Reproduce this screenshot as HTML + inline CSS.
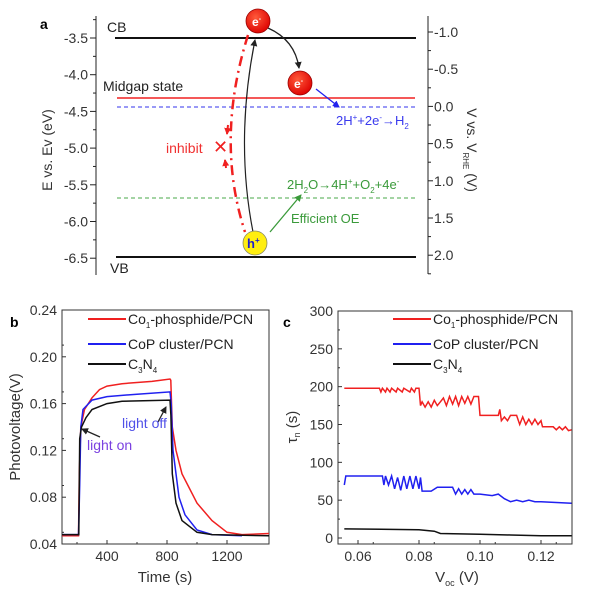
<!DOCTYPE html>
<html><head><meta charset="utf-8"><style>
body{margin:0;background:#fff}
svg{display:block;font-family:"Liberation Sans",sans-serif}
</style></head><body>
<svg width="600" height="589" viewBox="0 0 600 589">
<defs>
<marker id="ak" markerUnits="userSpaceOnUse" markerWidth="8" markerHeight="8" refX="6" refY="4" orient="auto"><path d="M0,0.5 L7,4 L0,7.5 z" fill="#222"/></marker>
<marker id="ab" markerUnits="userSpaceOnUse" markerWidth="8" markerHeight="8" refX="6" refY="4" orient="auto"><path d="M0,0.5 L7,4 L0,7.5 z" fill="#2222ee"/></marker>
<marker id="ag" markerUnits="userSpaceOnUse" markerWidth="8" markerHeight="8" refX="6" refY="4" orient="auto"><path d="M0,0.5 L7,4 L0,7.5 z" fill="#3a9a3a"/></marker>
<marker id="ar" markerUnits="userSpaceOnUse" markerWidth="8" markerHeight="8" refX="6" refY="4" orient="auto"><path d="M0,0.5 L7,4 L0,7.5 z" fill="#f02020"/></marker>
<radialGradient id="rg" cx="0.4" cy="0.35" r="0.7"><stop offset="0" stop-color="#ff5a3a"/><stop offset="1" stop-color="#d00"/></radialGradient>
</defs>
<g>
<text x="40" y="29" font-weight="bold" font-size="14">a</text>
<g id="aleft"></g>
<g id="aright"></g>
<text transform="translate(52,150) rotate(-90)" text-anchor="middle" font-size="14" fill="#333">E vs. Ev (eV)</text>
<text transform="translate(467,150) rotate(90)" text-anchor="middle" font-size="14" fill="#333">V vs. V<tspan font-size="8" dy="4">RHE</tspan><tspan dy="-4"> (V)</tspan></text>
<line x1="115" y1="38" x2="416" y2="38" stroke="#111" stroke-width="2"/>
<line x1="117" y1="98" x2="415" y2="98" stroke="#f02020" stroke-width="1.5"/>
<line x1="117" y1="107" x2="415" y2="107" stroke="#3333ee" stroke-width="1" stroke-dasharray="4,3"/>
<line x1="117" y1="198" x2="415" y2="198" stroke="#4aa84a" stroke-width="1" stroke-dasharray="4,3"/>
<line x1="116" y1="257" x2="416" y2="257" stroke="#111" stroke-width="2"/>
<text x="107" y="32" font-size="14" fill="#222">CB</text>
<text x="103" y="91" font-size="14" fill="#222">Midgap state</text>
<text x="110" y="273" font-size="14" fill="#222">VB</text>
<path d="M248,35 Q215,140 245,232" fill="none" stroke="#f02020" stroke-width="2.5" stroke-dasharray="10,5,2,5"/>
<path d="M228,125 L227,134" stroke="#f02020" stroke-width="2" marker-end="url(#ar)"/>
<path d="M226,168 L225,160" stroke="#f02020" stroke-width="2" marker-end="url(#ar)"/>
<text x="166" y="153" font-size="14" fill="#f03030">inhibit</text>
<text x="213" y="153" font-size="18" fill="#f02020">✕</text>
<path d="M253,232 Q235,140 255,40" fill="none" stroke="#222" stroke-width="1.2" marker-end="url(#ak)"/>
<path d="M268,28 Q295,40 299,68" fill="none" stroke="#222" stroke-width="1.3" marker-end="url(#ak)"/>
<line x1="316" y1="89" x2="339" y2="107" stroke="#2222ee" stroke-width="1.3" marker-end="url(#ab)"/>
<line x1="270" y1="232" x2="301" y2="195" stroke="#3a9a3a" stroke-width="1.3" marker-end="url(#ag)"/>
<text x="336" y="125" font-size="13" fill="#3a3aee">2H<tspan font-size="8" dy="-5">+</tspan><tspan dy="5">+2e</tspan><tspan font-size="8" dy="-5">-</tspan><tspan dy="5">→H</tspan><tspan font-size="8" dy="4">2</tspan></text>
<text x="287" y="189" font-size="13" fill="#3a9a3a">2H<tspan font-size="8" dy="4">2</tspan><tspan dy="-4">O→4H</tspan><tspan font-size="8" dy="-5">+</tspan><tspan dy="5">+O</tspan><tspan font-size="8" dy="4">2</tspan><tspan dy="-4">+4e</tspan><tspan font-size="8" dy="-5">-</tspan></text>
<text x="291" y="223" font-size="13" fill="#3a9a3a">Efficient OE</text>
<circle cx="258" cy="21" r="12" fill="url(#rg)" stroke="#900" stroke-width="0.8"/>
<text x="252" y="26" font-size="12" font-weight="bold" fill="#fff">e<tspan font-size="7" dy="-5">-</tspan></text>
<circle cx="300" cy="83" r="12" fill="url(#rg)" stroke="#900" stroke-width="0.8"/>
<text x="294" y="88" font-size="12" font-weight="bold" fill="#fff">e<tspan font-size="7" dy="-5">-</tspan></text>
<circle cx="255" cy="243" r="12" fill="#ffee10" stroke="#886" stroke-width="0.8"/>
<text x="247" y="248" font-size="13" font-weight="bold" fill="#2020cc">h<tspan font-size="8" dy="-5">+</tspan></text>
</g>
<g id="pb">
<text x="10" y="327" font-weight="bold" font-size="14">b</text>
<text transform="translate(20,427) rotate(-90)" text-anchor="middle" font-size="15" fill="#333">Photovoltage(V)</text>
<text x="165" y="582" text-anchor="middle" font-size="15" fill="#333">Time (s)</text>
</g>
<g id="pc">
<text x="283" y="327" font-weight="bold" font-size="14">c</text>
<text transform="translate(297,427) rotate(-90)" text-anchor="middle" font-size="15" fill="#333">τ<tspan font-size="9" dy="3">n</tspan><tspan dy="-3"> (s)</tspan></text>
<text x="457" y="582" text-anchor="middle" font-size="15" fill="#333">V<tspan font-size="9" dy="4">oc</tspan><tspan dy="-4"> (V)</tspan></text>
</g>
</svg>
<script>
const NS='http://www.w3.org/2000/svg';
function mk(tag,attrs,parent){const e=document.createElementNS(NS,tag);for(const k in attrs)e.setAttribute(k,attrs[k]);parent.appendChild(e);return e;}
const aLeftTicks=[-3.5,-4.0,-4.5,-5.0,-5.5,-6.0,-6.5];
const aRightTicks=[-1.0,-0.5,0.0,0.5,1.0,1.5,2.0];
const bTicksY=[0.04,0.08,0.12,0.16,0.20,0.24];
const bTicksX=[400,800,1200];
const bRedT=[100,210,215,225,250,300,350,400,500,600,700,820,825,835,860,900,1000,1100,1200,1300,1480];
const bRedV=[0.047,0.047,0.10,0.14,0.155,0.165,0.172,0.175,0.177,0.178,0.179,0.181,0.18,0.14,0.12,0.10,0.075,0.06,0.05,0.048,0.049];
const bBlueT=[100,210,218,225,240,300,400,600,820,828,840,880,920,1000,1100,1300];
const bBlueV=[0.048,0.048,0.09,0.14,0.155,0.163,0.166,0.168,0.170,0.16,0.12,0.08,0.065,0.052,0.048,0.047];
const bBlackT=[100,212,218,230,260,300,400,500,820,826,835,860,900,1000,1100,1480];
const bBlackV=[0.048,0.048,0.13,0.14,0.148,0.155,0.160,0.162,0.163,0.15,0.10,0.075,0.06,0.05,0.048,0.047];
const cTicksY=[0,50,100,150,200,250,300];
const cTicksX=[0.06,0.08,0.10,0.12];
const cRedX=[0.0555,0.067,0.0675,0.068,0.069,0.0695,0.0705,0.071,0.0725,0.073,0.0745,0.075,0.077,0.0775,0.0785,0.079,0.080,0.0805,0.081,0.082,0.083,0.084,0.085,0.086,0.087,0.088,0.089,0.090,0.091,0.092,0.093,0.094,0.095,0.096,0.097,0.098,0.0995,0.100,0.106,0.1065,0.107,0.108,0.109,0.110,0.112,0.113,0.114,0.115,0.116,0.117,0.118,0.119,0.120,0.1205,0.124,0.125,0.126,0.127,0.128,0.129,0.130];
const cRedY=[198,198,193,198,193,198,193,198,193,198,193,198,193,198,193,198,198,175,180,173,180,173,182,175,180,185,175,187,177,187,175,187,178,187,177,187,187,162,162,170,155,160,155,162,162,150,160,150,157,150,157,150,155,147,147,143,147,143,147,142,143];
const cBlueX=[0.0555,0.056,0.068,0.0685,0.069,0.070,0.071,0.072,0.073,0.074,0.075,0.076,0.077,0.078,0.079,0.080,0.0805,0.081,0.084,0.086,0.091,0.092,0.093,0.094,0.095,0.096,0.097,0.098,0.100,0.104,0.106,0.108,0.110,0.112,0.114,0.116,0.118,0.120,0.130];
const cBlueY=[70,82,82,70,82,70,82,65,80,63,82,65,82,65,82,65,80,62,62,67,67,58,65,58,64,58,64,58,58,56,58,52,48,50,48,50,48,48,46];
const cBlackX=[0.0555,0.080,0.085,0.087,0.100,0.110,0.120,0.130];
const cBlackY=[12,11,9,6,5,4,3,3];

const aL=document.getElementById('aleft'), aR=document.getElementById('aright');
const ayL=v=>38+(v+3.5)/-0.5*36.7;
const ayR=v=>32+(v+1.0)/0.5*37.2;
let ln=mk('line',{x1:96,y1:16,x2:96,y2:275,stroke:'#222','stroke-width':1},aL);


aLeftTicks.forEach((v,i)=>{const y=ayL(v);
 mk('line',{x1:90,y1:y,x2:96,y2:y,stroke:'#222'},aL);
 if(i<aLeftTicks.length-1) mk('line',{x1:93,y1:y+18.35,x2:96,y2:y+18.35,stroke:'#222'},aL);
 const t=mk('text',{x:88,y:y+5,'text-anchor':'end','font-size':14,fill:'#333'},aL);t.textContent=v.toFixed(1);
 
 });
mk('line',{x1:93,y1:ayL(-3.5)-18.35,x2:96,y2:ayL(-3.5)-18.35,stroke:'#222'},aL);
ln=mk('line',{x1:428,y1:16,x2:428,y2:274,stroke:'#222','stroke-width':1},aR);


aRightTicks.forEach(v=>{const y=ayR(v);
 mk('line',{x1:428,y1:y,x2:433,y2:y,stroke:'#222'},aR);
 mk('line',{x1:428,y1:y+18.6,x2:431,y2:y+18.6,stroke:'#222'},aR);
 const t=mk('text',{x:434,y:y+5,'font-size':14,fill:'#333'},aR);t.textContent=(v<0?'-':'')+Math.abs(v).toFixed(1);
 
 });

function axes(g,x0,x1,y0,y1){const r=mk('rect',{x:x0,y:y0,width:x1-x0,height:y1-y0,fill:'none',stroke:'#333','stroke-width':1},g);
 
 }
function series(g,xs,ys,sx,sy,color,name){const d=xs.map((x,i)=>(i?'L':'M')+sx(x).toFixed(1)+','+sy(ys[i]).toFixed(1)).join('');
 const p=mk('path',{d:d,fill:'none',stroke:color,'stroke-width':1.5},g);
 
 }
function legend(g,x,y,color,html,name){mk('line',{x1:x,y1:y,x2:x+38,y2:y,stroke:color,'stroke-width':2},g);
 const t=mk('text',{x:x+40,y:y+5,'font-size':14,fill:'#222'},g);t.innerHTML=html;
 
 }

const pb=document.getElementById('pb');
const bx=t=>62+(t-100)/1380*207, by=v=>544-(v-0.04)/0.20*234;
axes(pb,62,269,310,544);
bTicksY.forEach(v=>{const y=by(v);mk('line',{x1:62,y1:y,x2:66,y2:y,stroke:'#333'},pb);
 if(v<0.24)mk('line',{x1:62,y1:y-11.7,x2:64,y2:y-11.7,stroke:'#333'},pb);
 const t=mk('text',{x:57,y:y+5,'text-anchor':'end','font-size':14,fill:'#333'},pb);t.textContent=v.toFixed(2);
 
 });
bTicksX.forEach(v=>{const x=bx(v);mk('line',{x1:x,y1:544,x2:x,y2:540,stroke:'#333'},pb);
 mk('line',{x1:bx(v-200),y1:544,x2:bx(v-200),y2:542,stroke:'#333'},pb);
 const t=mk('text',{x:x,y:561,'text-anchor':'middle','font-size':14,fill:'#333'},pb);t.textContent=v;
 
 });
series(pb,bRedT,bRedV,bx,by,'#f02020','b-series-co1-phosphide');
series(pb,bBlueT,bBlueV,bx,by,'#2020f0','b-series-cop-cluster');
series(pb,bBlackT,bBlackV,bx,by,'#111','b-series-c3n4');
legend(pb,88,319,'#f02020','Co<tspan font-size="8" dy="4">1</tspan><tspan dy="-4">-phosphide/PCN</tspan>','b-legend-co1');
legend(pb,88,344,'#2020f0','CoP cluster/PCN','b-legend-cop');
legend(pb,88,364,'#111','C<tspan font-size="8" dy="4">3</tspan><tspan dy="-4">N</tspan><tspan font-size="8" dy="4">4</tspan>','b-legend-c3n4');
let a1=mk('line',{x1:100,y1:437,x2:82,y2:429,stroke:'#222','stroke-width':1.3,'marker-end':'url(#ak)'},pb);


let a2=mk('line',{x1:158,y1:422,x2:166,y2:407,stroke:'#222','stroke-width':1.3,'marker-end':'url(#ak)'},pb);


let t1=mk('text',{x:87,y:450,'font-size':14,fill:'#7a40e0'},pb);t1.textContent='light on';


let t2=mk('text',{x:122,y:428,'font-size':14,fill:'#5050e8'},pb);t2.textContent='light off';



const pc=document.getElementById('pc');
const cx=v=>358+(v-0.06)/0.01*30.5, cy=v=>538-v/300*227;
axes(pc,338,572,311,544);
cTicksY.forEach(v=>{const y=cy(v);mk('line',{x1:338,y1:y,x2:342,y2:y,stroke:'#333'},pc);
 if(v<300)mk('line',{x1:338,y1:y-18.9,x2:340,y2:y-18.9,stroke:'#333'},pc);
 const t=mk('text',{x:333,y:y+5,'text-anchor':'end','font-size':14,fill:'#333'},pc);t.textContent=v;
 
 });
cTicksX.forEach(v=>{const x=cx(v);mk('line',{x1:x,y1:544,x2:x,y2:540,stroke:'#333'},pc);
 mk('line',{x1:x+15.25,y1:544,x2:x+15.25,y2:542,stroke:'#333'},pc);
 const t=mk('text',{x:x,y:561,'text-anchor':'middle','font-size':14,fill:'#333'},pc);t.textContent=v.toFixed(2);
 
 });
series(pc,cRedX,cRedY,cx,cy,'#f02020','c-series-co1-phosphide');
series(pc,cBlueX,cBlueY,cx,cy,'#2020f0','c-series-cop-cluster');
series(pc,cBlackX,cBlackY,cx,cy,'#111','c-series-c3n4');
legend(pc,393,319,'#f02020','Co<tspan font-size="8" dy="4">1</tspan><tspan dy="-4">-phosphide/PCN</tspan>','c-legend-co1');
legend(pc,393,344,'#2020f0','CoP cluster/PCN','c-legend-cop');
legend(pc,393,364,'#111','C<tspan font-size="8" dy="4">3</tspan><tspan dy="-4">N</tspan><tspan font-size="8" dy="4">4</tspan>','c-legend-c3n4');
</script>
</body></html>
